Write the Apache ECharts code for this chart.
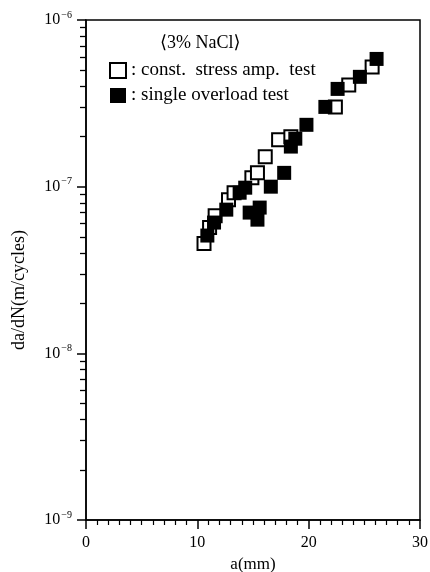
<!DOCTYPE html>
<html>
<head>
<meta charset="utf-8">
<script src="https://cdn.jsdelivr.net/npm/echarts@6/dist/echarts.min.js"></script>
<style>
  html, body { margin: 0; padding: 0; background: #fff; }
  #main { width: 430px; height: 572px; }
</style>
</head>
<body>
<div id="main"></div>
<script>
// 定振幅试验 (open squares)
var constA    = [10.6, 11.1, 11.6, 12.8, 13.3, 14.9, 15.4, 16.1, 17.3, 18.4, 22.4, 23.6, 25.7];
var constRate = [4.56e-8, 5.68e-8, 6.7e-8, 8.36e-8, 9.2e-8, 1.13e-7, 1.21e-7, 1.51e-7, 1.91e-7, 1.99e-7, 3.01e-7, 4.08e-7, 5.23e-7];

// 单次过载试验 (filled squares)
var overA    = [10.9, 11.5, 12.6, 13.8, 14.3, 14.7, 15.6, 15.4, 16.6, 17.8, 18.4, 18.8, 19.8, 21.5, 22.6, 24.6, 26.1];
var overRate = [5.09e-8, 6.09e-8, 7.28e-8, 9.2e-8, 9.86e-8, 6.99e-8, 7.49e-8, 6.34e-8, 1.0e-7, 1.21e-7, 1.74e-7, 1.94e-7, 2.35e-7, 3.01e-7, 3.86e-7, 4.56e-7, 5.84e-7];

// 刻度
var xTicks = [0, 10, 20, 30];
var decades = [1e-9, 1e-8, 1e-7, 1e-6];
var minorY = [];
decades.slice(0, 3).forEach(function (d) {
    for (var k = 2; k <= 9; k++) minorY.push(k * d);
});

function pairs(xs, ys) {
    return xs.map(function (x, i) { return [x, ys[i]]; });
}

var serif = '"Liberation Serif", "DejaVu Serif", serif';

var myChart = echarts.init(document.getElementById('main'));
var option = {
    animation: false,
    title: {
        text: '⟨3% NaCl⟩',
        left: 155,
        top: 29,
        textStyle: { fontFamily: serif, fontSize: 18, fontWeight: 'normal', color: '#000' }
    },
    legend: {
        orient: 'vertical',
        left: 104,
        top: 56,
        itemWidth: 16,
        itemHeight: 15,
        itemGap: 6,
        textStyle: { fontFamily: serif, fontSize: 19, color: '#000' },
        data: ['const', 'over'],
        formatter: function (name) {
            return name === 'const' ? ': const.  stress amp.  test' : ': single overload test';
        }
    },
    grid: {
        left: 86, right: 10, top: 20, bottom: 52,
        outerBoundsMode: 'none',
        show: true,
        borderColor: '#000',
        borderWidth: 1.5
    },
    xAxis: {
        type: 'value',
        min: 0,
        max: 30,
        interval: 10,
        name: 'a(mm)',
        nameLocation: 'middle',
        nameGap: 33,
        nameTextStyle: { fontFamily: serif, fontSize: 17, color: '#000' },
        axisLine: { lineStyle: { color: '#000', width: 1.5 } },
        axisTick: { length: 9, lineStyle: { color: '#000', width: 1.5 } },
        minorTick: { show: true, splitNumber: 10, length: 5, lineStyle: { color: '#000', width: 1.2 } },
        splitLine: { show: false },
        axisLabel: {
            customValues: xTicks,
            margin: 15,
            fontFamily: serif, fontSize: 16, color: '#000'
        }
    },
    yAxis: [
        {
            type: 'log',
            logBase: 10,
            min: 1e-9,
            max: 1e-6,
            name: 'da/dN(m/cycles)',
            nameLocation: 'middle',
            nameGap: 58,
            nameTextStyle: { fontFamily: serif, fontSize: 18, color: '#000', padding: [0, 40, 0, 0] },
            axisLine: { lineStyle: { color: '#000', width: 1.5 } },
            axisTick: { customValues: decades, length: 9, lineStyle: { color: '#000', width: 1.5 } },
            splitLine: { show: false },
            axisLabel: {
                customValues: decades,
                margin: 14,
                fontFamily: serif,
                fontSize: 16,
                color: '#000',
                formatter: function (v) {
                    var e = Math.round(Math.log10(v));
                    return '10{s|−' + (-e) + '}';
                },
                rich: {
                    s: { fontFamily: serif, fontSize: 10, color: '#000', padding: [0, 0, 10, 1] }
                }
            }
        },
        {
            type: 'log',
            logBase: 10,
            min: 1e-9,
            max: 1e-6,
            position: 'left',
            axisLine: { show: false },
            axisTick: { customValues: minorY, length: 6, lineStyle: { color: '#000', width: 1.3 } },
            axisLabel: { show: false },
            splitLine: { show: false }
        }
    ],
    series: [
        {
            name: 'const',
            type: 'scatter',
            symbol: 'rect',
            symbolSize: 13,
            itemStyle: { color: '#fff', borderColor: '#000', borderWidth: 2, opacity: 1 },
            data: pairs(constA, constRate)
        },
        {
            name: 'over',
            type: 'scatter',
            symbol: 'rect',
            symbolSize: 14,
            itemStyle: { color: '#000', opacity: 1 },
            data: pairs(overA, overRate)
        }
    ]
};

myChart.setOption(option);
</script>
</body>
</html>
